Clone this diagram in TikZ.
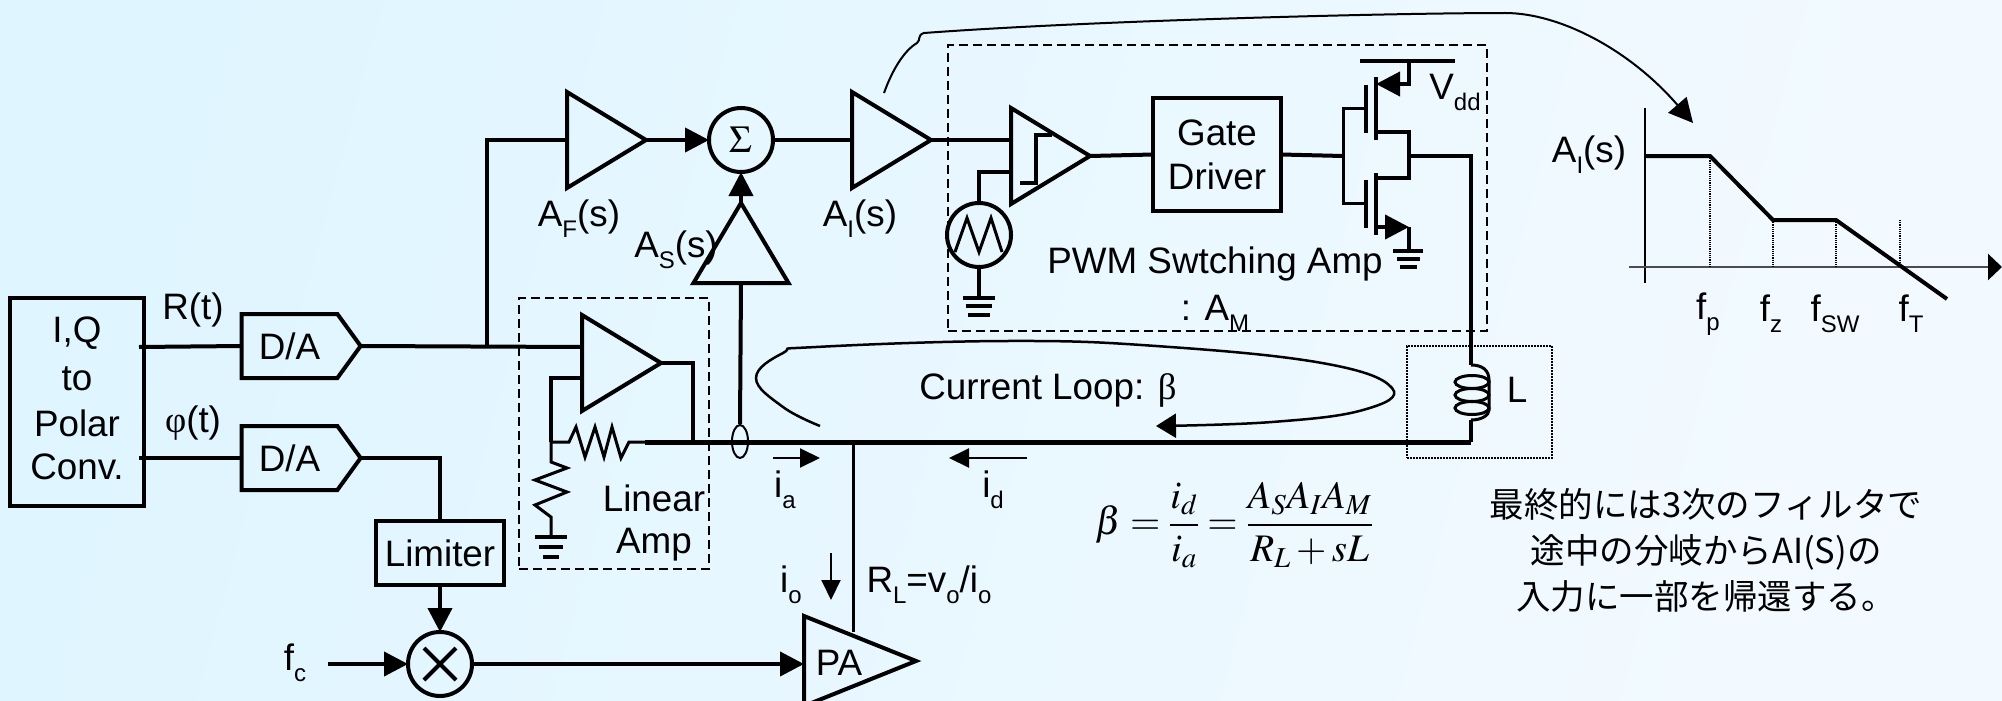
\documentclass[tikz,border=0pt]{standalone}
\usepackage{mathptmx}
\usepackage{fontspec}
\setmainfont{Liberation Sans}
\newfontfamily\jpfont{Noto Sans CJK JP}
\newfontfamily\greekfont{Liberation Serif}
\usetikzlibrary{shapes.geometric, shapes.symbols, arrows.meta, positioning, calc}
\definecolor{bgleft}{HTML}{DFF5FF}
\definecolor{bgright}{HTML}{F3FAFF}
\newcommand{\lowtext}[1]{\raisebox{-0.3em}{\fontsize{24}{24}\selectfont #1}}
\tikzset{
  wire/.style={line width=4pt},
  thinwire/.style={line width=2pt},
  head/.style={-{Triangle[length=24pt,width=24pt]}},
  smallhead/.style={-{Triangle[length=20pt,width=19pt]}},
  amp/.style={draw, line width=4pt, isosceles triangle, isosceles triangle stretches, inner sep=0pt, outer sep=0pt, minimum width=96pt, minimum height=79pt, anchor=apex},
  block/.style={draw, line width=4pt, rectangle, inner sep=0pt, outer sep=0pt, align=center},
  dac/.style={draw, line width=4pt, signal, signal to=east, signal pointer angle=108, inner sep=0pt, outer sep=0pt, minimum width=119pt, minimum height=64pt},
  roundsym/.style={draw, line width=4pt, circle, inner sep=0pt, outer sep=0pt, minimum size=64pt},
  dashbox/.style={draw, line width=2pt, dashed, dash pattern=on 9pt off 5pt, rectangle, inner sep=0pt, outer sep=0pt}
}
\begin{document}
\begin{tikzpicture}[x=1pt, y=-1pt, >=Stealth, font=\fontsize{36.8}{44}\selectfont]
    \useasboundingbox (0,0) rectangle (2002,701);
    \clip (0,0) rectangle (2002,701);
    \shade[left color=bgleft, right color=bgright, shading angle=75] (0,0) rectangle (2002,701);

    \node[block, minimum width=134pt, minimum height=208pt] (polar) at (77,402) {};
    \node (polar1) at (77,333) {I,Q};
    \node (polar2) at (77,379) {to};
    \node (polar3) at (77,423) {Polar};
    \node (polar4) at (77,467) {Conv.};
    \node (rt) at (193,310) {R(t)};
    \node (phit) at (193,423) {{\greekfont φ}(t)};

    \node[dac] (dar) at (289.5,346) {D/A};
    \node[dac] (daphi) at (289.5,458) {D/A};
    \node[block, minimum width=128pt, minimum height=64pt] (limiter) at (440,553) {Limiter};
    \node[roundsym] (mixer) at (440,664) {};
    \node (fc) at (295,663) {f\lowtext{c}};
    \coordinate (fcin) at (328,664);
    \node[amp, minimum width=90pt, minimum height=112pt] (pa) at (916,661) {};
    \node (palab) at (839,663) {PA};

    \coordinate (polarr) at (139,347);
    \coordinate (polarphi) at (139,458);
    \draw[wire] (polarr) -- (dar.west);
    \draw[wire] (polarphi) -- (daphi.west);
    \coordinate (split) at (487,347);
    \coordinate (ffin) at (567,140);
    \coordinate (linin) at (582,347);
    \coordinate (limtop) at (440,458);
    \draw[wire] (dar.east) -- (linin);
    \draw[wire] (split) |- (ffin);
    \draw[wire] (daphi.east) -- (limtop) -- (limiter.north);
    \draw[wire, head] (limiter.south) -- (mixer.north);
    \draw[wire, head] (fcin) -- (mixer.west);
    \coordinate (pain) at (804,664);
    \draw[wire, head] (mixer.east) -- (pain);
    \draw[wire] (mixer.center) ++(-16,-16) -- ++(32,32);
    \draw[wire] (mixer.center) ++(16,-16) -- ++(-32,32);

    \node[amp] (linamp) at (661,363) {};
    \node[dashbox, minimum width=190pt, minimum height=271pt] (linbox) at (614,433.5) {};
    \node (linlab1) at (654,498) {Linear};
    \node (linlab2) at (654,545) {Amp};
    \coordinate (mainl) at (645,442);
    \coordinate (mainr) at (1471,442);
    \coordinate (linout) at (693,442);
    \coordinate (fbtop) at (582,378);
    \coordinate (fbnode) at (551,442);
    \draw[wire] (linamp.apex) -| (linout);
    \draw[wire] (fbtop) -| (fbnode);
    \draw[thinwire, line width=3pt] (fbnode) -- (569,442) -- (576,427) -- (585,457) -- (595,427) -- (604,457) -- (612,427) -- (621,458) -- (629,442) -- (mainl);
    \draw[thinwire, line width=3pt] (fbnode) -- (551,462) -- (567,468) -- (535,480) -- (567,492) -- (535,505) -- (551,517) -- (551,537);
    \draw[line width=4pt] (535,537) -- (567,537) (539,547) -- (563,547) (543,557) -- (559,557);
    \draw[line width=5pt] (mainl) -- (mainr);

    \node[amp] (ffamp) at (646,140) {};
    \node (fflab) at (579,219) {A\lowtext{F}(s)};
    \node[roundsym] (sum) at (741,140) {\fontsize{38}{38}\selectfont $\Sigma$};
    \node[amp] (iamp) at (931,140) {};
    \node (ilab) at (860,219) {A\lowtext{I}(s)};
    \node[amp, shape border rotate=90, minimum width=95pt, minimum height=80pt] (samp) at (741,203) {};
    \node (slab) at (676,250) {A\lowtext{S}(s)};
    \node[draw, line width=2pt, ellipse, minimum width=16pt, minimum height=33pt, inner sep=0pt] (sense) at (740,441.5) {};
    \coordinate (sbase) at (741,283);
    \draw[wire, head] (ffamp.apex) -- (sum.west);
    \draw[wire] (sum.east) -- ($(iamp.apex)+(-79,0)$);
    \draw[wire, head] (samp.apex) -- (sum.south);
    \draw[wire] (sense.north) -- (sbase);

    \node[dashbox, minimum width=539pt, minimum height=286pt] (pwmbox) at (1217.5,188) {};
    \node[amp] (comp) at (1090,156) {};
    \draw[wire] (1020,183) -- (1036,183) -- (1036,135) -- (1052,135);
    \node[block, minimum width=128pt, minimum height=113pt] (driver) at (1217,154.5) {Gate\\Driver};
    \node[roundsym] (saw) at (979,235) {};
    \draw[wire, line width=3pt] (955,252) -- (967,218) -- (979,252) -- (991,218) -- (1002,252);
    \coordinate (compin) at (1011,140);
    \coordinate (sawin) at (1011,172);
    \coordinate (sawgnd) at (979,298);
    \draw[wire] (iamp.apex) -- (compin);
    \draw[wire] (sawin) -| (saw.north);
    \draw[wire] (saw.south) -- (sawgnd);
    \draw[line width=4pt] (963,298) -- (995,298) (966,306) -- (992,306) (968,315) -- (990,315);
    \draw[wire] (comp.apex) -- (driver.west);
    \node (pwmlab) at (1215,264) {PWM Swtching Amp};
    \node (amlab) at (1215,313) {: A\lowtext{M}};
    \node (vdd) at (1455,92) {V\lowtext{dd}};

    \coordinate (gatebus) at (1343,156);
    \coordinate (swout) at (1409,156);
    \coordinate (coiltop) at (1471,365);
    \coordinate (coilbot) at (1471,420);
    \draw[wire] (driver.east) -- (gatebus);
    \draw[wire, line width=3pt] (1366,108) -- (1343,108) -- (1343,203) -- (1366,203);
    \draw[wire] (1366,85) -- (1366,133) (1376,77) -- (1376,140);
    \draw[wire] (1366,180) -- (1366,228) (1376,173) -- (1376,235);
    \draw[wire] (1360,61) -- (1455,61);
    \draw[wire, head] (1409,61) |- (1376,84);
    \draw[wire] (1376,132) -- (1409,132) -- (1409,178) -- (1376,178);
    \draw[wire, head] (1376,227) -- (1409,227);
    \draw[wire] (1409,227) -- (1409,250);
    \draw[line width=4pt] (1393,251) -- (1423,251) (1397,259) -- (1420,259) (1400,267) -- (1417,267);
    \draw[wire] (swout) -| (coiltop);
    \draw[wire] (coilbot) -- (mainr);

    \node[draw, line width=2pt, densely dotted, rectangle, inner sep=0pt, outer sep=0pt, minimum width=145pt, minimum height=112pt] (lbox) at (1479.5,402) {};
    \draw[wire, line width=3pt] (coiltop) .. controls (1482,365) and (1489,370) .. (1489,380);
    \draw[wire, line width=3pt] (1472,382) ellipse (17 and 6.5);
    \draw[wire, line width=3pt] (1472,395) ellipse (17 and 6.5);
    \draw[wire, line width=3pt] (1472,408) ellipse (17 and 6.5);
    \draw[wire, line width=3pt] (1489,380) -- (1489,410) .. controls (1489,415) and (1482,420) .. (coilbot);
    \node (llab) at (1517,390) {L};

    \node (looplab) at (1048,390) {Current Loop: {\greekfont β}};
    \draw[thinwire, line width=2.5pt, -{Triangle[length=20pt,width=24pt]}] plot[smooth, tension=.7] coordinates {(820,426) (783,407) (756,378) (783,353) (816,347) (1007,341) (1156,346) (1322,363) (1392,388) (1363,410) (1272,422) (1156,426)};

    \coordinate (iatail) at (773,458);
    \coordinate (iatip) at (820,458);
    \coordinate (idtail) at (1027,458);
    \coordinate (idtip) at (949,458);
    \coordinate (iotail) at (831,553);
    \coordinate (iotip) at (831,600);
    \draw[thinwire, smallhead] (iatail) -- (iatip);
    \draw[thinwire, smallhead] (idtail) -- (idtip);
    \draw[thinwire, smallhead] (iotail) -- (iotip);
    \node (ia) at (785,490) {i\lowtext{a}};
    \node (id) at (993,490) {i\lowtext{d}};
    \node (io) at (791,585) {i\lowtext{o}};
    \node (rl) at (929,585) {R\lowtext{L}=v\lowtext{o}/i\lowtext{o}};
    \coordinate (rltop) at (853,442);
    \coordinate (rlbot) at (853,632);
    \draw[thinwire, line width=3pt] (rltop) -- (rlbot);

    \node[font=\fontsize{39}{47}\selectfont] (betaeq) at (1234,525) {$\displaystyle \beta=\frac{i_d}{i_a}=\frac{A_SA_IA_M}{R_L+sL}$};
    \node[font=\jpfont\fontsize{34.5}{46}\selectfont, align=center] (note) at (1706,550) {最終的には3次のフィルタで\\途中の分岐からAI(S)の\\入力に一部を帰還する。};

    \coordinate (aitail) at (884,93);
    \coordinate (aitip) at (1693,123);
    \draw[thinwire, -{Triangle[length=24pt,width=24pt]}] (aitail) .. controls (893,68) and (905,50) .. (917,43) .. controls (921,40) and (917,35) .. (924,33) .. controls (1100,20) and (1400,13) .. (1505,13) .. controls (1560,13) and (1630,50) .. (aitip);

    \node (gainlab) at (1589,155) {A\lowtext{I}(s)};
    \coordinate (xleft) at (1629,267);
    \coordinate (xright) at (2002,267);
    \coordinate (ytop) at (1645,108);
    \coordinate (ybot) at (1645,283);
    \draw[line width=2pt] (ytop) -- (ybot);
    \draw[thinwire, line width=2.5pt, color=black!70, -{Triangle[length=14pt,width=26pt,color=black]}] (xleft) -- (xright);
    \draw[wire] (1645,156) -- (1710,156) -- (1773,220) -- (1836,220) -- (1947,299);
    \draw[line width=1.2pt, densely dotted] (1710,156) -- (1710,267) (1773,220) -- (1773,267) (1836,220) -- (1836,267) (1900,220) -- (1900,267);
    \node (fp) at (1708,314) {f\lowtext{p}};
    \node (fz) at (1771,314) {f\lowtext{z}};
    \node (fsw) at (1835,314) {f\lowtext{SW}};
    \node (ft) at (1911,314) {f\lowtext{T}};
\end{tikzpicture}
\end{document}
